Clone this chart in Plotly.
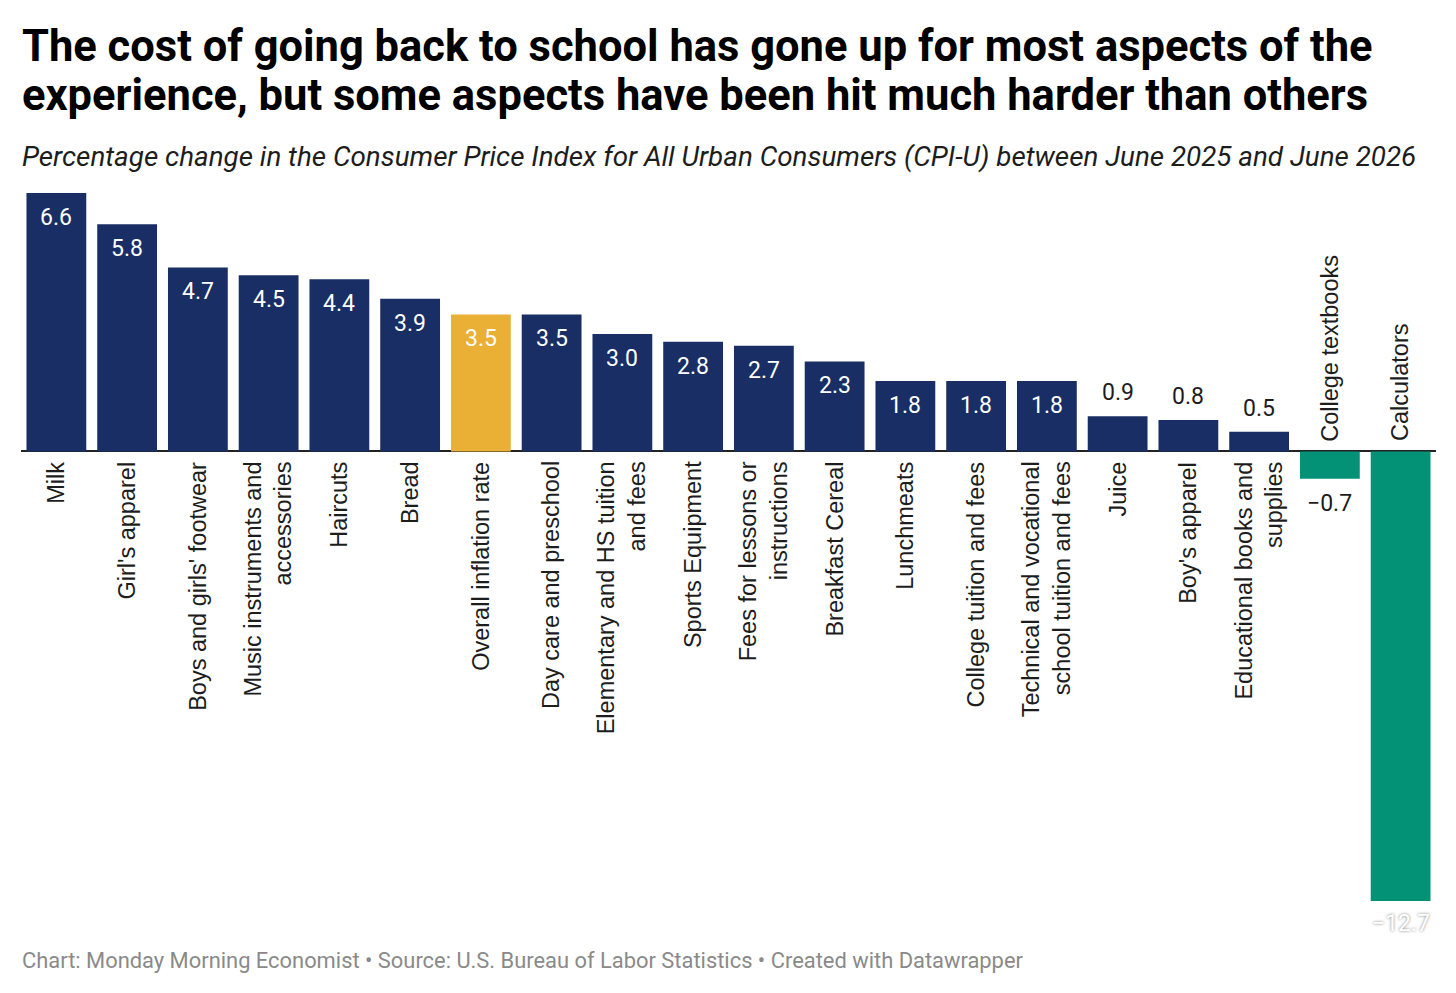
import plotly.graph_objects as go

# data (CPI-U % change, June 2025 -> June 2026)
categories = [
    "Milk", "Girl's apparel", "Boys and girls' footwear",
    "Music instruments and<br>accessories", "Haircuts", "Bread",
    "Overall inflation rate", "Day care and preschool",
    "Elementary and HS tuition<br>and fees", "Sports Equipment",
    "Fees for lessons or<br>instructions", "Breakfast Cereal", "Lunchmeats",
    "College tuition and fees",
    "Technical and vocational<br>school tuition and fees", "Juice",
    "Boy's apparel", "Educational books and<br>supplies",
    "College textbooks", "Calculators",
]
values = [6.6, 5.8, 4.7, 4.5, 4.4, 3.9, 3.5, 3.5, 3.0, 2.8, 2.7, 2.3,
          1.8, 1.8, 1.8, 0.9, 0.8, 0.5, -0.7, -12.7]
highlight = "Overall inflation rate"

title_lines = [
    "The cost of going back to school has gone up for most aspects of the",
    "experience, but some aspects have been hit much harder than others",
]
subtitle = ("Percentage change in the Consumer Price Index for All Urban "
            "Consumers (CPI-U) between June 2025 and June 2026")
footer = ("Chart: Monday Morning Economist \u2022 Source: U.S. Bureau of Labor "
          "Statistics \u2022 Created with Datawrapper")

NAVY = "#182e64"
GOLD = "#e9b035"
GREEN = "#039276"

# the page body has an 8px margin, so the figure is a bit smaller
OFF = 8
W, H = 1456 - OFF, 993 - OFF
LEFT, RIGHT = 21, 1436          # plot area in page pixels
TOP, BOTTOM = 193, 901
Y_MIN, Y_MAX = -11.48, 6.6      # the calculators bar runs off the bottom


def py(pix):
    # page pixel row -> paper y
    return (BOTTOM - pix) / (BOTTOM - TOP)


colors = []
for c, v in zip(categories, values):
    if c == highlight:
        colors.append(GOLD)
    elif v < 0:
        colors.append(GREEN)
    else:
        colors.append(NAVY)

x = list(range(len(categories)))

fig = go.Figure(go.Bar(
    x=x, y=values, marker=dict(color=colors, line=dict(width=0)),
    hoverinfo="skip", width=0.845,
))

LBL = dict(color="#1d1d1d", size=23.5, family="Liberation Sans, Arial")
VAL = 23

ann = []
# value labels
for i, v in enumerate(values):
    txt = f"{v:.1f}".replace("-", "\u2212")
    if v >= 1.5:
        ann.append(dict(x=i, y=v, text=txt, yanchor="top", yshift=-9,
                        font=dict(color="white", size=VAL, family="Roboto")))
    elif v >= 0:
        ann.append(dict(x=i, y=v, text=txt, yanchor="bottom", yshift=8,
                        font=dict(color="#1d1d1d", size=VAL, family="Roboto")))
    elif v > Y_MIN:
        ann.append(dict(x=i, y=v, text=txt, yanchor="top", yshift=-9,
                        font=dict(color="#1d1d1d", size=VAL, family="Roboto")))
    else:
        ann.append(dict(x=i, y=Y_MIN, text=txt, yanchor="top", yshift=-7,
                        font=dict(color="white", size=VAL, family="Roboto",
                                  shadow="0px 0px 3px #777")))

# category labels, rotated
for i, (c, v) in enumerate(zip(categories, values)):
    if v >= 0:
        ann.append(dict(x=i, y=0, text=c, textangle=-90, yanchor="top",
                        yshift=-8, align="right", font=LBL))
    else:
        ann.append(dict(x=i, y=0, text=c, textangle=-90, yanchor="bottom",
                        yshift=8, align="left", font=LBL))

for a in ann:
    a.update(xref="x", yref="y", showarrow=False, xanchor="center")

# titles and footer
ann.append(dict(xref="paper", yref="paper", x=-0.001, y=py(46), xanchor="left",
                yanchor="middle", showarrow=False, text=f"<b>{title_lines[0]}</b>",
                font=dict(family="Roboto", size=43.5, color="#000000")))
ann.append(dict(xref="paper", yref="paper", x=-0.001, y=py(95), xanchor="left",
                yanchor="middle", showarrow=False, text=f"<b>{title_lines[1]}</b>",
                font=dict(family="Roboto", size=43.5, color="#000000")))
ann.append(dict(xref="paper", yref="paper", x=-0.001, y=py(157), xanchor="left",
                yanchor="middle", showarrow=False, text=f"<i>{subtitle}</i>",
                font=dict(family="Roboto", size=27.8, color="#1d1d1d")))
ann.append(dict(xref="paper", yref="paper", x=-0.001, y=py(960), xanchor="left",
                yanchor="middle", showarrow=False, text=footer,
                font=dict(family="Roboto", size=21.9, color="#8a8a8a")))

fig.update_layout(
    width=W, height=H,
    margin=dict(l=LEFT - OFF, r=W - (RIGHT - OFF), t=TOP - OFF,
                b=H - (BOTTOM - OFF), pad=0),
    paper_bgcolor="white", plot_bgcolor="white",
    showlegend=False,
    bargap=0.155,
    annotations=ann,
    xaxis=dict(range=[-0.5, len(categories) - 0.5], showticklabels=False,
               showgrid=False, zeroline=False, ticks="", fixedrange=True),
    yaxis=dict(range=[Y_MIN, Y_MAX], showticklabels=False, showgrid=False,
               zeroline=True, zerolinecolor="#222222", zerolinewidth=2,
               layer="above traces", ticks="", fixedrange=True),
)

fig.write_html("out.html", config={"displayModeBar": False})
